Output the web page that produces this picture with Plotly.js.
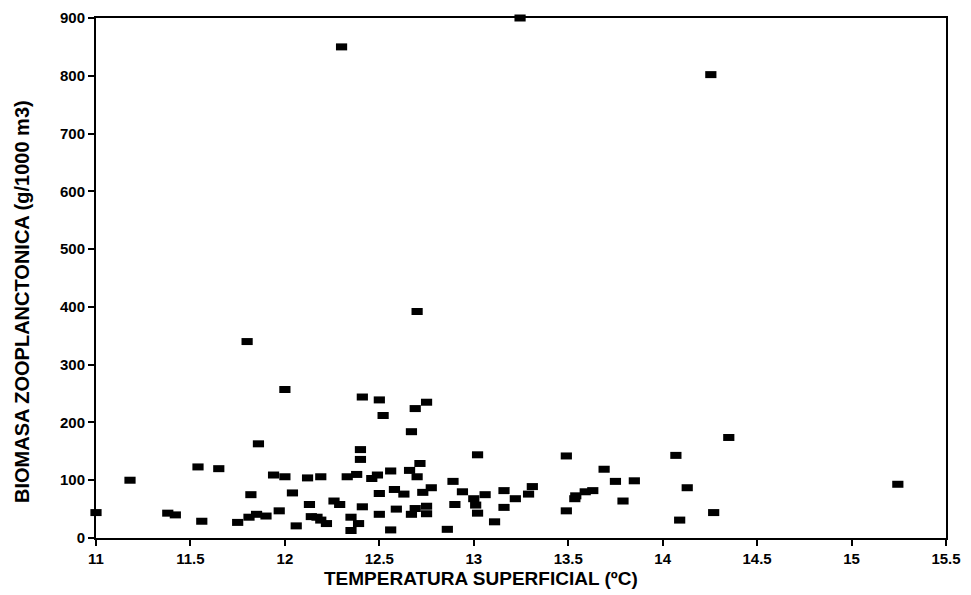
<!DOCTYPE html>
<html>
<head>
<meta charset="utf-8">
<script src="https://cdn.plot.ly/plotly-3.0.1.min.js"></script>
<style>html,body{margin:0;padding:0;background:#fff;}#chart{width:971px;height:595px;}</style>
</head>
<body>
<div id="chart"></div>
<script>
// Temperatura superficial (ºC)
const temperatura = [
  11.00, 11.18, 11.38, 11.42, 11.54, 11.56, 11.65, 11.75, 11.80, 11.81,
  11.82, 11.85, 11.86, 11.90, 11.94, 12.00, 11.97, 12.00, 12.04, 12.06,
  12.12, 12.13, 12.14, 12.17, 12.19, 12.19, 12.22, 12.26, 12.29, 12.30,
  12.33, 12.35, 12.35, 12.38, 12.39, 12.40, 12.40, 12.41, 12.41, 12.46,
  12.49, 12.50, 12.50, 12.50, 12.52, 12.56, 12.56, 12.58, 12.59, 12.63,
  12.66, 12.67, 12.67, 12.69, 12.69, 12.70, 12.70, 12.715, 12.73, 12.75,
  12.75, 12.75, 12.775, 12.86, 12.89, 12.90, 12.94, 13.00, 13.01, 13.02,
  13.02, 13.06, 13.11, 13.16, 13.16, 13.22, 13.245, 13.29, 13.31, 13.49,
  13.49, 13.54, 13.535, 13.59, 13.63, 13.69, 13.75, 13.79, 13.85, 14.07,
  14.09, 14.13, 14.255, 14.27, 14.35, 15.245
];
// Biomasa zooplanctonica (g/1000 m3)
const biomasa = [
  44, 100, 43, 40, 123, 29, 120, 27, 340, 36,
  75, 41, 163, 38, 109, 106, 47, 257, 78, 21,
  104, 58, 37, 36, 106, 31, 25, 64, 58, 850,
  106, 36, 13, 110, 25, 153, 136, 54, 244, 103,
  109, 41, 77, 239, 212, 116, 14, 84, 50, 76,
  117, 41, 184, 51, 224, 106, 392, 129, 79, 55,
  42, 235, 87, 15, 98, 58, 80, 68, 57, 43,
  144, 75, 28, 53, 82, 68, 900, 76, 89, 142,
  47, 73, 68, 80, 82, 119, 98, 64, 99, 143,
  31, 87, 802, 44, 174, 93
];
const xTickVals = [11, 11.5, 12, 12.5, 13, 13.5, 14, 14.5, 15, 15.5];
const xTickText = ["11", "11.5", "12", "12.5", "13", "13.5", "14", "14.5", "15", "15.5"];
const yTickVals = [0, 100, 200, 300, 400, 500, 600, 700, 800, 900];
const xTitle = "TEMPERATURA SUPERFICIAL (ºC)";
const yTitle = "BIOMASA ZOOPLANCTONICA (g/1000 m3)";

const trace = {
  x: temperatura,
  y: biomasa,
  type: "scatter",
  mode: "markers",
  cliponaxis: false,
  hoverinfo: "x+y",
  marker: {
    symbol: "line-ew",
    size: 8,
    color: "#000",
    line: { color: "#000", width: 7 }
  }
};

const tickFont = { family: "Liberation Sans, Arial, sans-serif", size: 15, color: "#000", weight: "bold" };
const xTitleFont = { family: "Liberation Sans, Arial, sans-serif", size: 19, color: "#000", weight: "bold" };
const yTitleFont = { family: "Liberation Sans, Arial, sans-serif", size: 20, color: "#000", weight: "bold" };

const layout = {
  width: 971,
  height: 595,
  margin: { l: 96, r: 25, t: 18, b: 57 },
  paper_bgcolor: "#fff",
  plot_bgcolor: "#fff",
  showlegend: false,
  xaxis: {
    range: [11, 15.5],
    tickvals: xTickVals,
    ticktext: xTickText,
    ticks: "outside",
    ticklen: 6,
    tickwidth: 2,
    tickcolor: "#000",
    showgrid: false,
    zeroline: false,
    showline: true,
    linewidth: 2,
    linecolor: "#000",
    mirror: true,
    tickfont: tickFont
  },
  yaxis: {
    range: [0, 900],
    tickvals: yTickVals,
    ticks: "outside",
    ticklen: 6,
    tickwidth: 2,
    tickcolor: "#000",
    showgrid: false,
    zeroline: false,
    showline: true,
    linewidth: 2,
    linecolor: "#000",
    mirror: true,
    tickfont: tickFont
  },
  annotations: [
    { text: xTitle, xref: "paper", yref: "paper", x: 0.453, y: -0.077,
      xanchor: "center", yanchor: "middle", showarrow: false, font: xTitleFont },
    { text: yTitle, xref: "paper", yref: "paper", x: -0.087, y: 0.454, textangle: -90,
      xanchor: "center", yanchor: "middle", showarrow: false, font: yTitleFont }
  ]
};

Plotly.newPlot("chart", [trace], layout, { displayModeBar: false, staticPlot: true });
</script>
</body>
</html>
